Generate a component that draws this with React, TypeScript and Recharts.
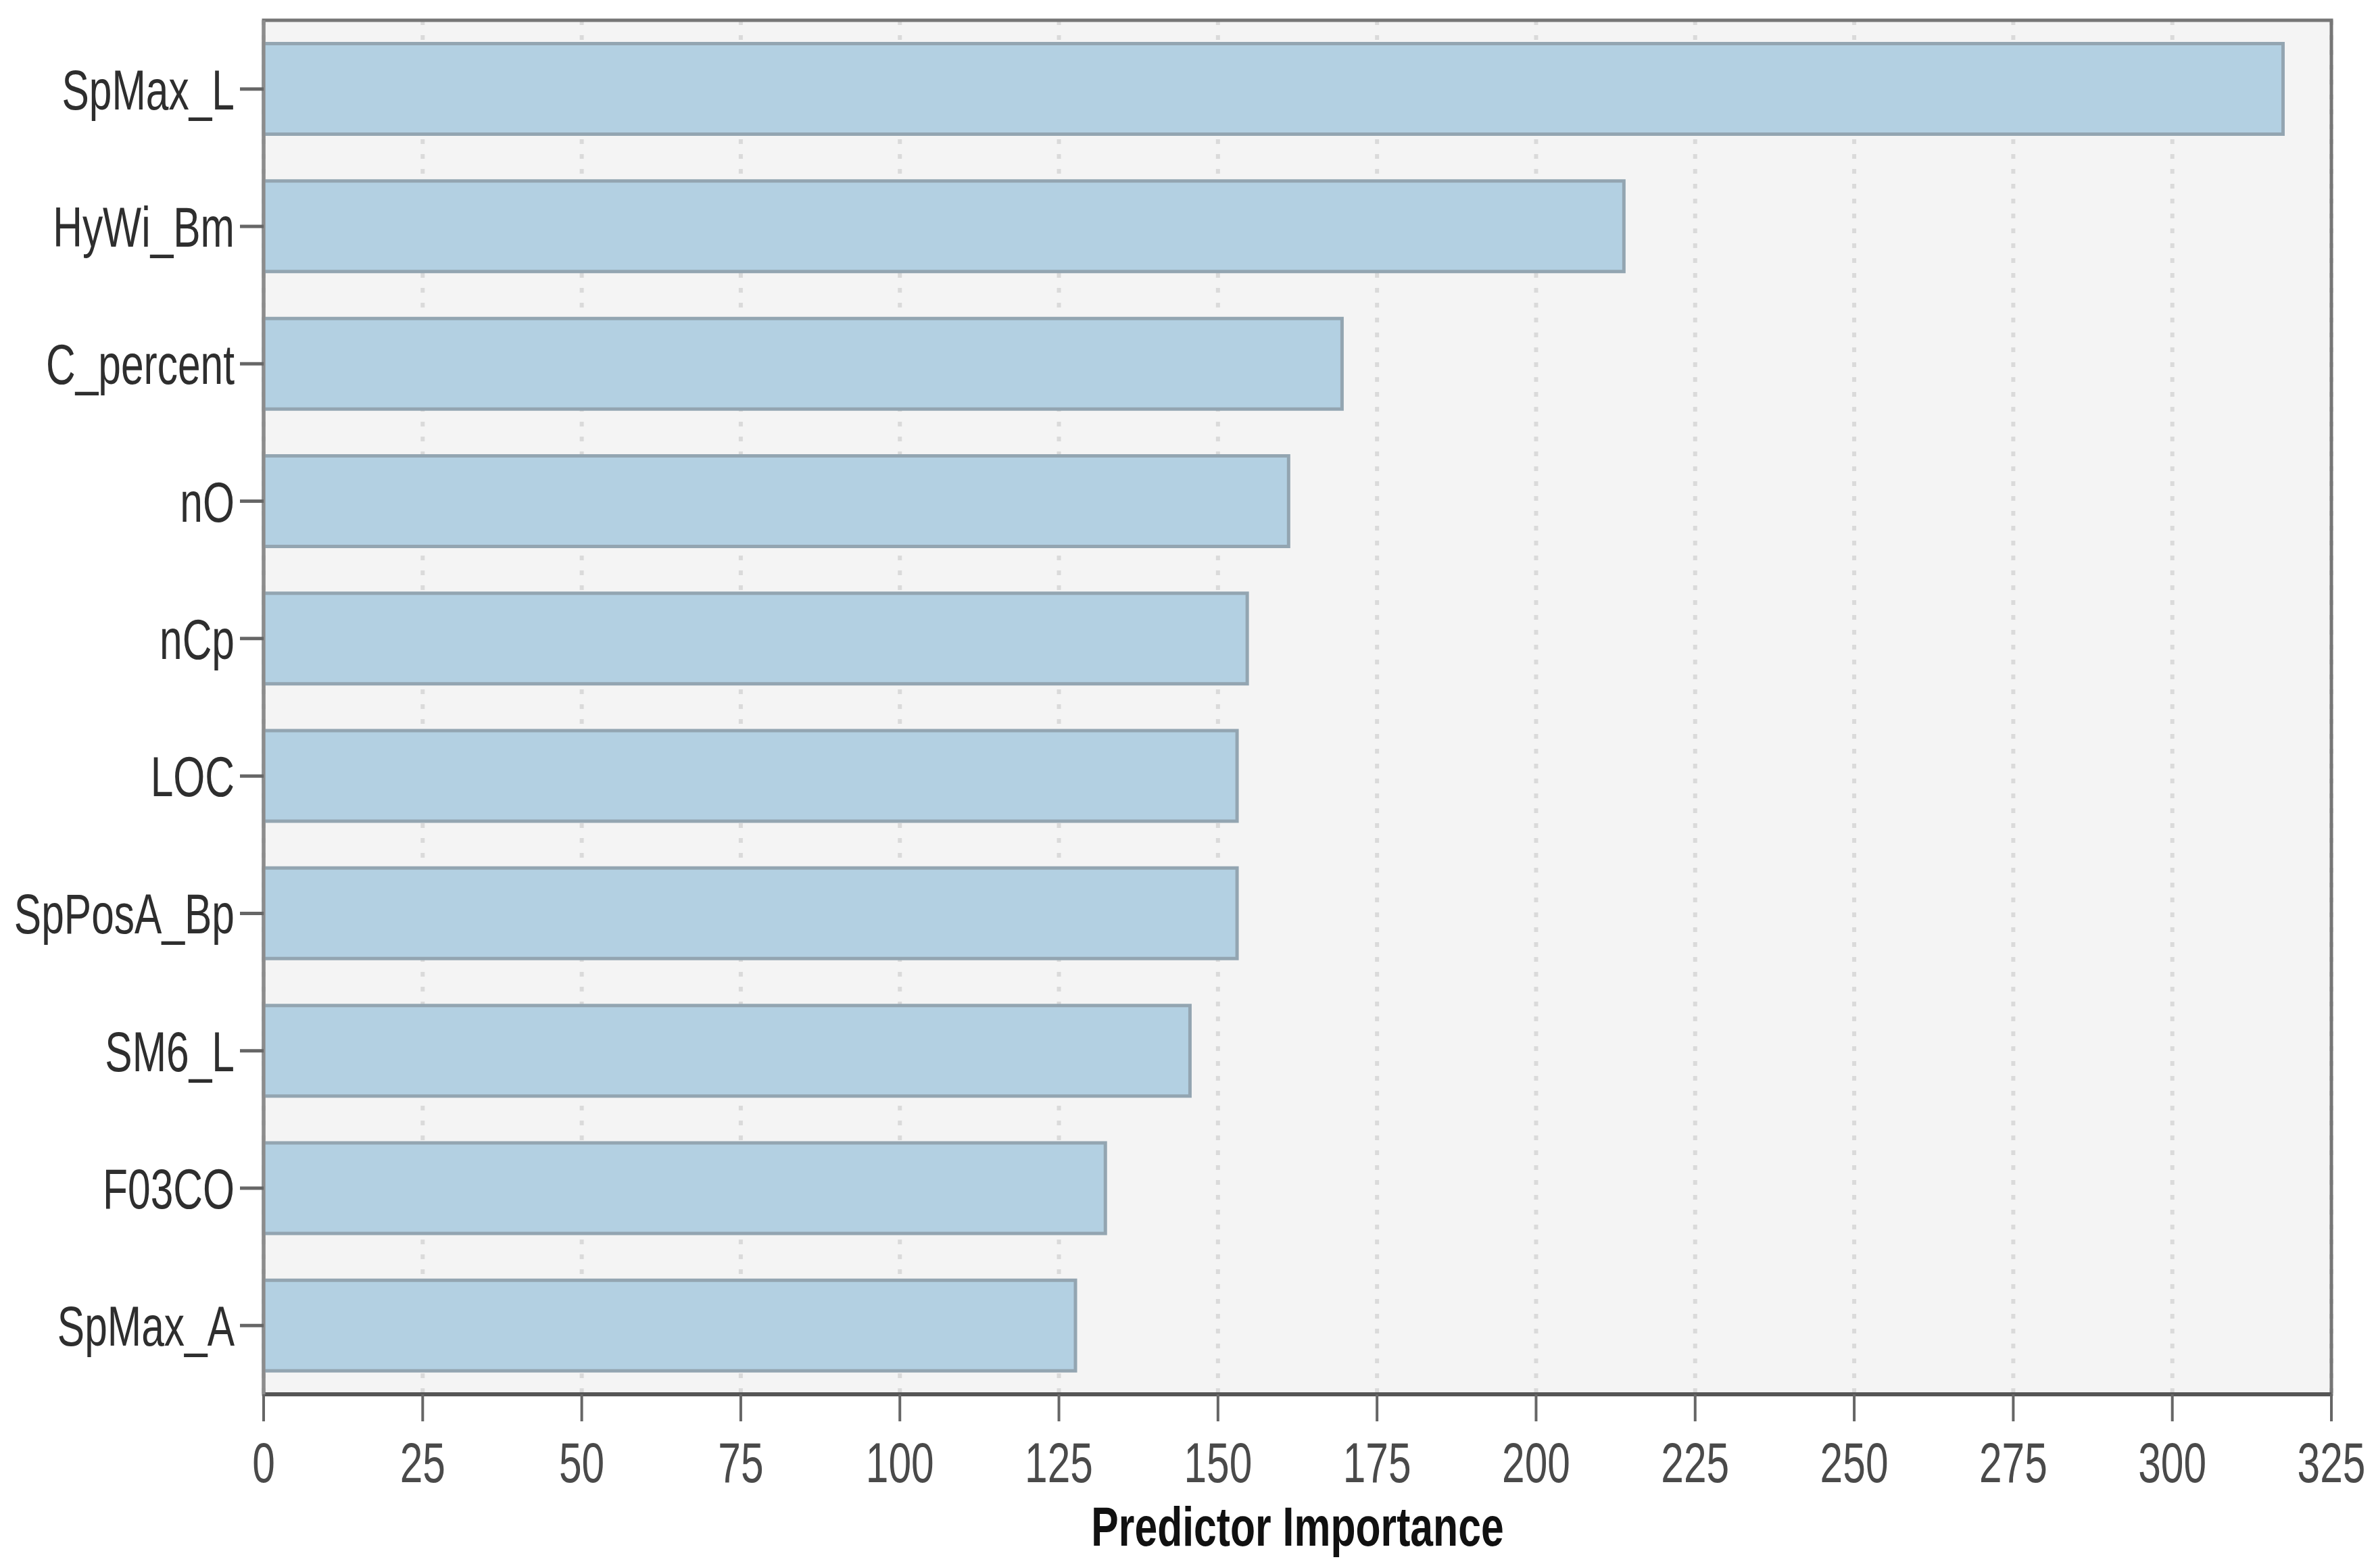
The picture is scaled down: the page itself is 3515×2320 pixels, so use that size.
import React from 'react';
import { BarChart, Bar, XAxis, YAxis, CartesianGrid, ReferenceArea } from 'recharts';

// predictors, most important first
const predictors = ['SpMax_L', 'HyWi_Bm', 'C_percent', 'nO', 'nCp', 'LOC', 'SpPosA_Bp', 'SM6_L', 'F03CO', 'SpMax_A'];
const importance = [317.4, 213.8, 169.5, 161.1, 154.6, 153.0, 153.0, 145.6, 132.3, 127.6];
const xTicks = [0, 25, 50, 75, 100, 125, 150, 175, 200, 225, 250, 275, 300, 325];
const xMax = 325;

const data = predictors.map((name, i) => ({ name, value: importance[i] }));

const FONT = '"Liberation Sans", Arial, sans-serif';
const SQUEEZE = 0.72;

const XTick = (props: any) => {
  const { x, y, payload } = props;
  return (
    <g transform={`translate(${x},${y})`}>
      <text transform={`scale(${SQUEEZE},1)`} textAnchor="middle" dy={90} fontSize={84} fontFamily={FONT} fill="#4a4a4a">
        {payload.value}
      </text>
    </g>
  );
};

const YTick = (props: any) => {
  const { x, y, payload } = props;
  return (
    <g transform={`translate(${x},${y})`}>
      <text transform={`scale(${SQUEEZE},1)`} textAnchor="end" dy={30} fontSize={84} fontFamily={FONT} fill="#2e2e2e">
        {payload.value}
      </text>
    </g>
  );
};

const AxisTitle = (props: any) => {
  const vb = props.viewBox || {};
  const cx = vb.x + vb.width / 2;
  const by = vb.y + vb.height - 33;
  return (
    <g transform={`translate(${cx},${by})`}>
      <text transform="scale(0.74,1)" textAnchor="middle" fontSize={82} fontWeight="bold" fontFamily={FONT} fill="#111">
        Predictor Importance
      </text>
    </g>
  );
};

export default function App() {
  return (
    <div style={{ position: 'absolute', left: 0, top: 0, width: 3515, height: 2320, background: '#fff' }}>
      <BarChart
        width={3515}
        height={2320}
        data={data}
        layout="vertical"
        margin={{ top: 30, right: 66, left: 0, bottom: 0 }}
        barCategoryGap="17%"
      >
        <CartesianGrid
          horizontal={false}
          fill="#f4f4f4"
          stroke="#dadada"
          strokeWidth={6}
          strokeDasharray="7 15"
        />
        <XAxis
          type="number"
          domain={[0, xMax]}
          ticks={xTicks}
          interval={0}
          height={257}
          tickSize={40}
          tickMargin={0}
          tick={<XTick />}
          tickLine={{ stroke: '#666', strokeWidth: 4 }}
          axisLine={{ stroke: '#555', strokeWidth: 6 }}
          label={<AxisTitle />}
        />
        <YAxis
          type="category"
          dataKey="name"
          width={390}
          tickSize={35}
          tickMargin={8}
          tick={<YTick />}
          tickLine={{ stroke: '#666', strokeWidth: 5 }}
          axisLine={{ stroke: '#8c8c8c', strokeWidth: 5 }}
        />
        <Bar dataKey="value" fill="#b3d0e2" stroke="#93a5b1" strokeWidth={5} isAnimationActive={false} />
        {/* plot frame (top / right edges) */}
        <ReferenceArea x1={0} x2={xMax} fill="none" stroke="#767676" strokeWidth={5} fillOpacity={0} />
      </BarChart>
    </div>
  );
}
